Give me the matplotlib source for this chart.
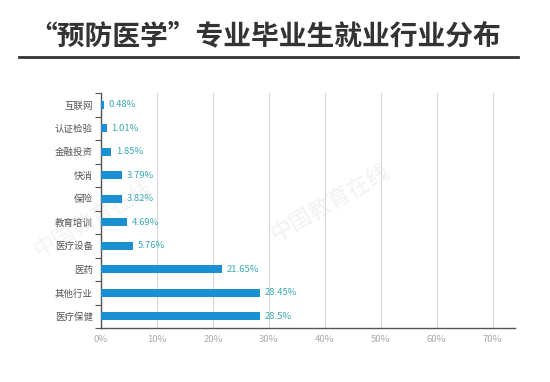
import matplotlib.pyplot as plt
import numpy as np

plt.rcParams['font.family'] = ['Noto Sans CJK SC', 'DejaVu Sans']

# ===== data =====
industries = ['互联网', '认证检验', '金融投资', '快消', '保险',
              '教育培训', '医疗设备', '医药', '其他行业', '医疗保健']
shares = [0.48, 1.01, 1.85, 3.79, 3.82, 4.69, 5.76, 21.65, 28.45, 28.5]
share_labels = ['0.48%', '1.01%', '1.85%', '3.79%', '3.82%',
                '4.69%', '5.76%', '21.65%', '28.45%', '28.5%']
xticks = [0, 10, 20, 30, 40, 50, 60, 70]

fig = plt.figure(figsize=(5.5, 3.82), dpi=100)
fig.patch.set_facecolor('white')

# title + rule
fig.text(265 / 550, 1 - 36 / 382, '“预防医学”专业毕业生就业行业分布', ha='center', va='center',
         fontsize=20, fontweight='bold', color='#333333')
fig.add_artist(plt.Line2D([19 / 550, 518 / 550], [1 - 57 / 382, 1 - 57 / 382],
                          color='#333333', lw=2))

# faint watermark
fig.text(0.6, 0.47, '中国教育在线', fontsize=16, color='#f1f1f1', rotation=30,
         ha='center', va='center', zorder=-1)
fig.text(0.17, 0.43, '中国教育在线', fontsize=16, color='#f3f3f3', rotation=30,
         ha='center', va='center', zorder=-1)

ax = fig.add_axes([101 / 550, 1 - 328 / 382, (515 - 101) / 550, (328 - 93) / 382])
ax.set_facecolor('none')

y = np.arange(len(industries))
ax.barh(y, shares, height=0.32, color='#1a8fd2', zorder=3)
for yi, v, lab in zip(y, shares, share_labels):
    ax.text(v + 0.8, yi, lab, va='center', ha='left', fontsize=6.8, color='#3aa9b6', zorder=4)

ax.set_xlim(0, 74)
ax.set_ylim(len(industries) - 0.5, -0.5)
ax.set_xticks(xticks)
ax.set_xticklabels([f'{t}%' for t in xticks], fontsize=6.8, color='#aaaaaa')
ax.set_yticks(y)
ax.set_yticklabels(industries, fontsize=6.8, color='#555555')
ax.set_yticks(np.arange(-0.5, len(industries), 1), minor=True)
ax.tick_params(axis='y', which='major', length=0, pad=6)
ax.tick_params(axis='y', which='minor', length=4, color='#555555', width=0.8)
ax.tick_params(axis='x', length=0, pad=5)

ax.grid(axis='x', color='#d9d9d9', lw=0.8, zorder=0)
for s in ['top', 'right']:
    ax.spines[s].set_visible(False)
ax.spines['left'].set_color('#555555')
ax.spines['bottom'].set_color('#555555')
ax.spines['left'].set_linewidth(1)
ax.spines['bottom'].set_linewidth(1)

plt.savefig('out.png', dpi=100)
